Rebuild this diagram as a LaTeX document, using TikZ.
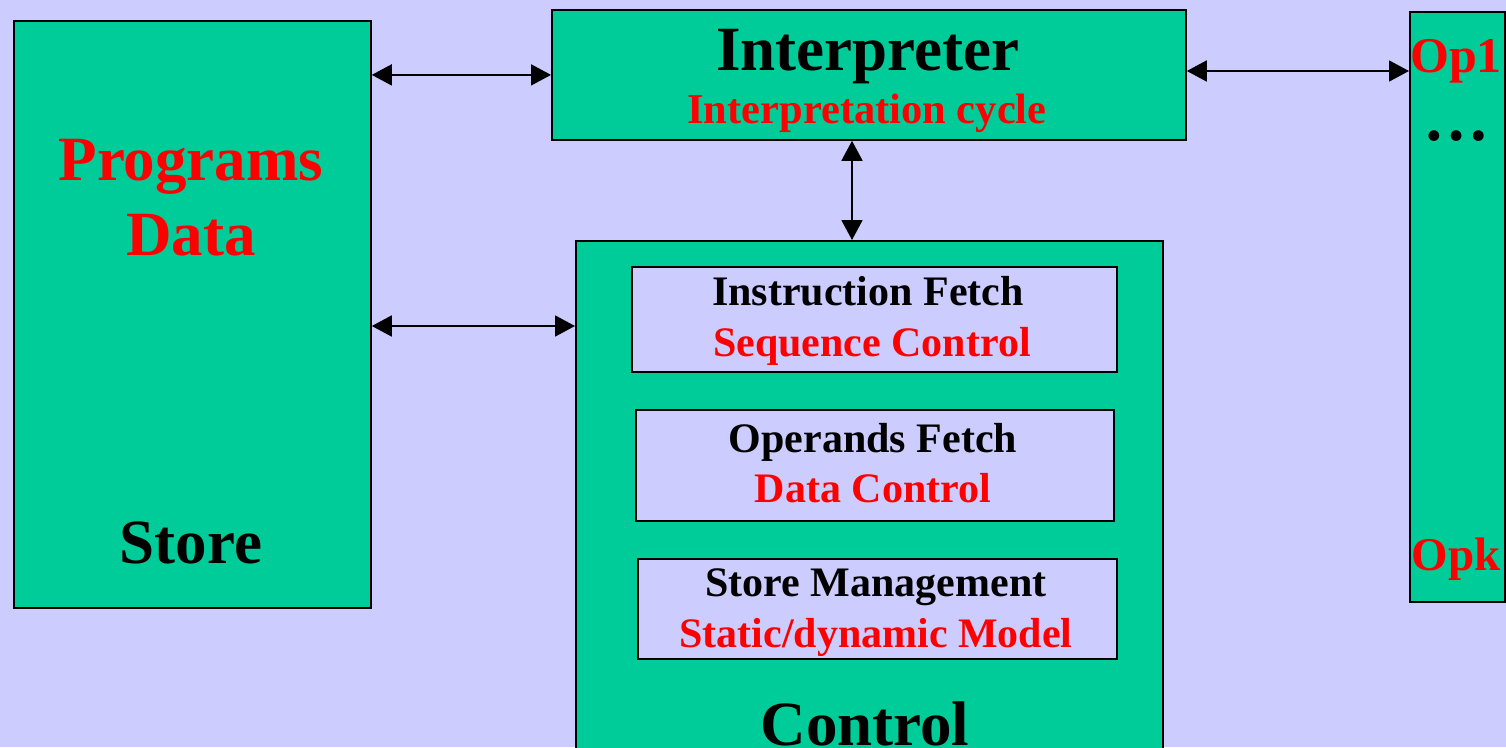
\documentclass[tikz,border=0pt]{standalone}
\usepackage{fontspec}
\setmainfont{Liberation Serif}
\usetikzlibrary{arrows.meta}
\definecolor{bg}{HTML}{CCCCFF}
\definecolor{grn}{HTML}{00CC99}
\definecolor{rd}{HTML}{FF0000}
\tikzset{
  gbox/.style={draw=black, line width=1.8pt, fill=grn, inner sep=0pt, anchor=north west},
  lbox/.style={draw=black, line width=1.8pt, fill=bg, inner sep=0pt, anchor=north west},
  dbl/.style={line width=1.8pt, {Triangle[length=20pt,width=21pt]}-{Triangle[length=20pt,width=21pt]}},
  txt/.style={anchor=base, inner sep=0pt, font=\bfseries},
}
\begin{document}
\begin{tikzpicture}[x=1pt,y=-1pt]
\useasboundingbox (0,0) rectangle (1506,747);
\fill[bg] (0,0) rectangle (1506,747);
% boxes
\node[gbox, minimum width=357pt, minimum height=587pt] (store) at (13,20) {};
\node[gbox, minimum width=634pt, minimum height=130pt] (interp) at (551,9) {};
\node[gbox, minimum width=587pt, minimum height=530pt] (ctl) at (575,240) {};
\node[lbox, minimum width=485pt, minimum height=105pt] (b1) at (631,266) {};
\node[lbox, minimum width=478pt, minimum height=111pt] (b2) at (635,409) {};
\node[lbox, minimum width=479pt, minimum height=100pt] (b3) at (637,558) {};
\node[gbox, minimum width=95pt, minimum height=590pt] (ops) at (1409,11) {};
% texts
\node[txt, font=\fontsize{63}{63}\selectfont\bfseries] (tint) at (868,70) {Interpreter};
\node[txt, text=rd, font=\fontsize{42.5}{42.5}\selectfont\bfseries] (tcyc) at (867,123) {Interpretation cycle};
\node[txt, text=rd, font=\fontsize{63}{63}\selectfont\bfseries] (tprog) at (191,180) {Programs};
\node[txt, text=rd, font=\fontsize{63}{63}\selectfont\bfseries] (tdata) at (191,255) {Data};
\node[txt, font=\fontsize{63}{63}\selectfont\bfseries] (tstore) at (191,563) {Store};
\node[txt, font=\fontsize{42}{42}\selectfont\bfseries] (t1a) at (868,305) {Instruction Fetch};
\node[txt, text=rd, font=\fontsize{42}{42}\selectfont\bfseries] (t1b) at (872,356) {Sequence Control};
\node[txt, font=\fontsize{42}{42}\selectfont\bfseries] (t2a) at (873,452) {Operands Fetch};
\node[txt, text=rd, font=\fontsize{42}{42}\selectfont\bfseries] (t2b) at (873,502) {Data Control};
\node[txt, font=\fontsize{42}{42}\selectfont\bfseries] (t3a) at (876,596) {Store Management};
\node[txt, text=rd, font=\fontsize{42}{42}\selectfont\bfseries] (t3b) at (876,647) {Static/dynamic Model};
\node[txt, font=\fontsize{63}{63}\selectfont\bfseries] (tctl) at (865,745) {Control};
\node[txt, text=rd, font=\fontsize{50}{50}\selectfont\bfseries] (top1) at (1456,72) {Op1};
\node[txt, font=\fontsize{66}{66}\selectfont\bfseries] (tdots) at (1456,140) {\ldots};
\node[txt, text=rd, font=\fontsize{47}{47}\selectfont\bfseries] (topk) at (1456,570) {Opk};
% connectors
\draw[dbl] (store.east |- interp.west) -- (interp.west);
\draw[dbl] (store.east |- 0,326) -- (ctl.west |- 0,326);
\draw[dbl] (interp.south -| 852,0) -- (ctl.north -| 852,0);
\draw[dbl] (interp.east |- 0,71) -- (ops.west |- 0,71);
\end{tikzpicture}
\end{document}
